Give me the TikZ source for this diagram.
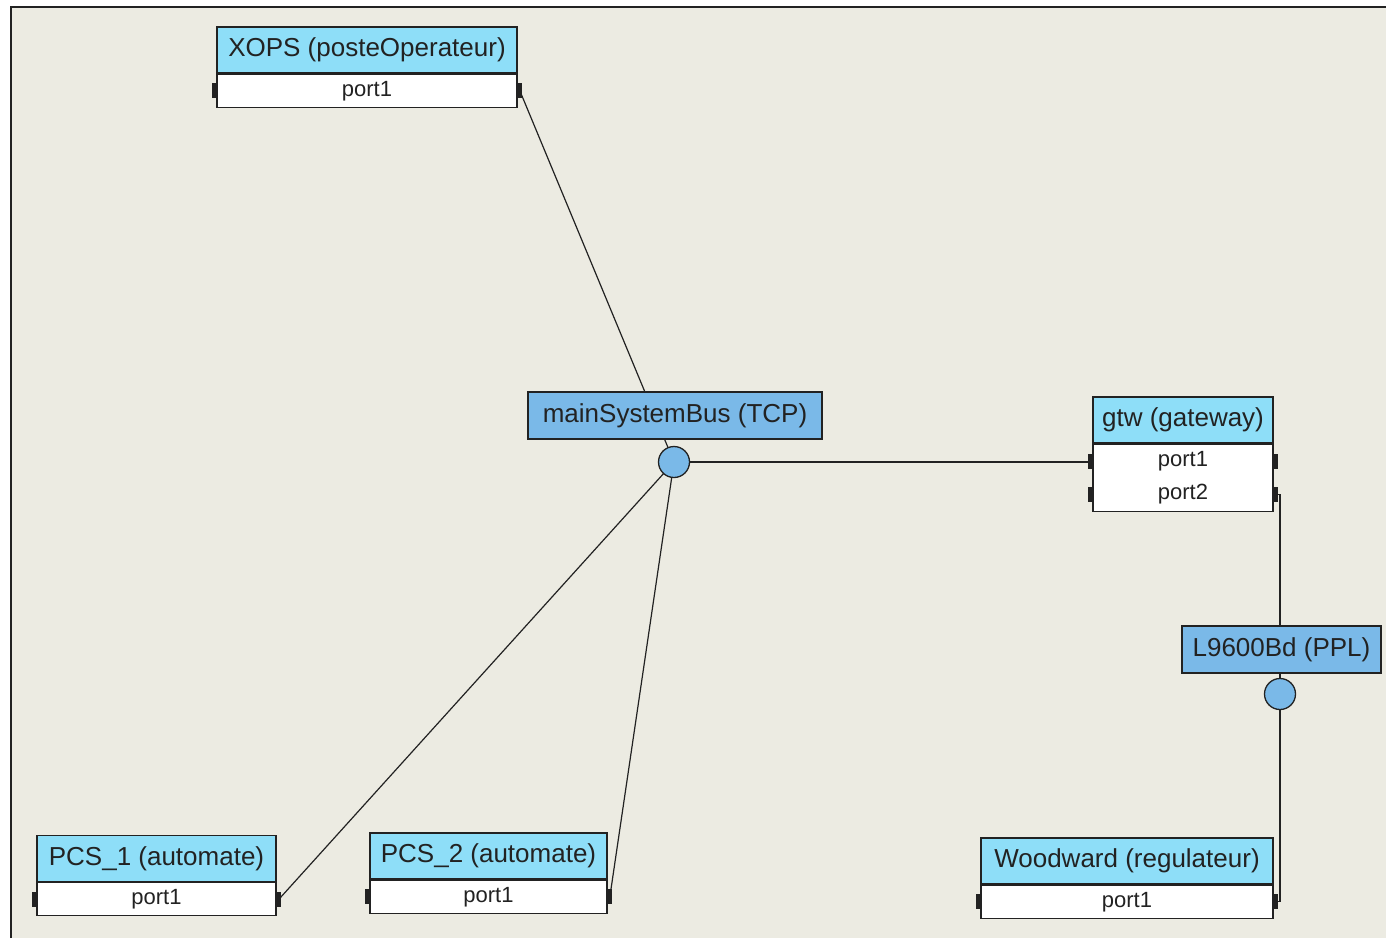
\documentclass[tikz,border=0pt]{standalone}
\usepackage{fontspec}
\setmainfont{Liberation Sans}
\usetikzlibrary{positioning}
\pgfdeclarelayer{back}
\pgfsetlayers{back,main}
\definecolor{canvas}{HTML}{ECEBE2}
\definecolor{headcyan}{HTML}{8EDEF8}
\definecolor{busblue}{HTML}{7AB9E8}
\definecolor{ink}{HTML}{222222}

\tikzset{
  head/.style={draw=ink, fill=headcyan, line width=1.3pt, inner sep=0pt,
    minimum height=46pt, text=ink, font=\fontsize{26}{30}\selectfont},
  prow/.style={draw=ink, fill=white, line width=1.3pt, inner sep=0pt,
    minimum height=33pt, text=ink, font=\fontsize{22}{26}\selectfont},
  busbox/.style={draw=ink, fill=busblue, line width=1.3pt, inner sep=0pt,
    minimum height=47pt, text=ink, font=\fontsize{26}{30}\selectfont},
  busdot/.style={circle, draw=ink, fill=busblue, line width=1.3pt,
    minimum size=31pt, inner sep=0pt},
  stub/.style={fill=ink, inner sep=0pt, minimum width=4pt, minimum height=15pt},
  wire/.style={draw=ink, line width=1.2pt},
}

\begin{document}
\begin{tikzpicture}[x=1pt, y=-1pt]
  \useasboundingbox (0,0) rectangle (1386,938);

  %%%%% COMPONENTS %%%%%
  \node[head, minimum width=300pt] (xops) at (367,50) {XOPS (posteOperateur)};
  \node[prow, minimum width=300pt, anchor=north] (xopsP1) at (xops.south) {port1};
  \node[stub, anchor=east] (xopsL) at (xopsP1.west) {};
  \node[stub, anchor=west] (xopsR) at (xopsP1.east) {};

  \node[head, minimum width=239pt] (pcsa) at (156.5,858.5) {PCS\_1 (automate)};
  \node[prow, minimum width=239pt, anchor=north] (pcsaP1) at (pcsa.south) {port1};
  \node[stub, anchor=east] (pcsaL) at (pcsaP1.west) {};
  \node[stub, anchor=west] (pcsaR) at (pcsaP1.east) {};

  \node[head, minimum width=237pt] (pcsb) at (488.5,856) {PCS\_2 (automate)};
  \node[prow, minimum width=237pt, anchor=north] (pcsbP1) at (pcsb.south) {port1};
  \node[stub, anchor=east] (pcsbL) at (pcsbP1.west) {};
  \node[stub, anchor=west] (pcsbR) at (pcsbP1.east) {};

  \node[head, minimum width=292pt] (wood) at (1127,861) {Woodward (regulateur)};
  \node[prow, minimum width=292pt, anchor=north] (woodP1) at (wood.south) {port1};
  \node[stub, anchor=east] (woodL) at (woodP1.west) {};
  \node[stub, anchor=west] (woodR) at (woodP1.east) {};

  \node[head, minimum width=180pt] (gtw) at (1183,420) {gtw (gateway)};
  \node[prow, minimum width=180pt, minimum height=67pt, anchor=north] (gtwP) at (gtw.south) {};
  \node[prow, draw=none, fill=none, minimum height=0pt] (gtwP1) at ([yshift=16.5pt]gtwP.center) {port1};
  \node[prow, draw=none, fill=none, minimum height=0pt] (gtwP2) at ([yshift=-16.5pt]gtwP.center) {port2};
  \node[stub, anchor=east] (gtwL1) at (gtwP.west |- gtwP1) {};
  \node[stub, anchor=west] (gtwR1) at (gtwP.east |- gtwP1) {};
  \node[stub, anchor=east] (gtwL2) at (gtwP.west |- gtwP2) {};
  \node[stub, anchor=west] (gtwR2) at (gtwP.east |- gtwP2) {};

  %%%%% BUSES %%%%%
  \node[busbox, minimum width=294pt] (tcp) at (675,415.5) {mainSystemBus (TCP)};
  \node[busdot] (tcpDot) at (674,462) {};

  \node[busbox, minimum width=199pt] (ppl) at (1281.5,649.5) {L9600Bd (PPL)};
  \node[busdot] (pplDot) at (1280,694) {};

  %%%%% CANVAS AND WIRES %%%%%
  \begin{pgfonlayer}{back}
    \fill[white] (0,0) rectangle (1386,938);
    \fill[canvas] (11,7) rectangle (1386,938);
    \draw[line width=2pt, ink] (11,938) -- (11,7) -- (1386,7);

    \draw[wire] (xopsR.center) -- (tcpDot.center);
    \draw[wire] (pcsaR.center) -- (tcpDot.center);
    \draw[wire] (pcsbR.center) -- (tcpDot.center);
    \draw[wire] (tcpDot.center) -- (tcpDot.center -| gtwL1.center);
    \draw[wire] (gtwR2.east) -| (pplDot.center);
    \draw[wire] (woodR.east) -| (pplDot.center);
  \end{pgfonlayer}
\end{tikzpicture}
\end{document}
